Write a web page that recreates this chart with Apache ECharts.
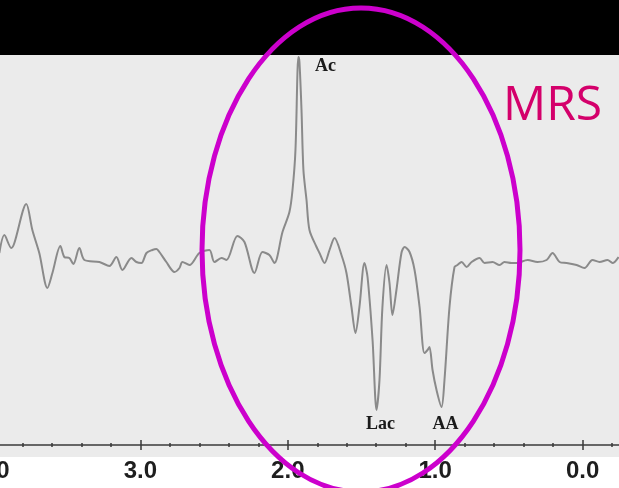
<!DOCTYPE html>
<html>

<head>
  <meta charset="utf-8">
  <title>MRS</title>
  <script src="https://cdnjs.cloudflare.com/ajax/libs/echarts/6.0.0/echarts.min.js"></script>
  <style>
    html, body { margin: 0; padding: 0; background: #fff; }
  </style>
</head>

<body>
  <div id="main" style="width: 619px;height:488px;"></div>
  <script type="text/javascript">
    // chemical shift (ppm) from left to right
    var ppm = [3.957, 3.923, 3.876, 3.855, 3.774, 3.733, 3.686, 3.631, 3.597, 3.543,
      3.516, 3.482, 3.455, 3.414, 3.380, 3.278, 3.210, 3.163, 3.122, 3.061,
      3.027, 2.993, 2.959, 2.919, 2.891, 2.871, 2.824, 2.769, 2.735, 2.715,
      2.667, 2.600, 2.532, 2.498, 2.450, 2.416, 2.342, 2.294, 2.226, 2.172,
      2.125, 2.091, 2.036, 1.989, 1.968, 1.948, 1.934, 1.928, 1.921, 1.907,
      1.894, 1.873, 1.853, 1.805, 1.785, 1.751, 1.717, 1.683, 1.636, 1.602,
      1.568, 1.541, 1.514, 1.480, 1.459, 1.425, 1.398, 1.378, 1.358, 1.330,
      1.310, 1.290, 1.263, 1.229, 1.208, 1.174, 1.140, 1.106, 1.073, 1.052,
      1.039, 1.018, 0.991, 0.957, 0.937, 0.903, 0.869, 0.849, 0.821, 0.787,
      0.753, 0.699, 0.665, 0.611, 0.563, 0.530, 0.482, 0.448, 0.373, 0.306,
      0.244, 0.204, 0.156, 0.109, 0.041, -0.013, -0.067, -0.115, -0.169, -0.203,
      -0.244];
    // signal amplitude (arbitrary units, baseline = 0)
    var signal = [9, 27, 14, 19, 58, 32, 9, -26, -11, 16,
      5, 4, -2, 14, 2, 0, -4, 5, -8, 4,
      0, -1, 9, 12, 13, 10, 0, -10, -6, 0,
      -3, 9, 12, 0, 4, 2, 26, 20, -11, 10,
      7, -1, 30, 50, 72, 112, 192, 205, 200, 152,
      92, 62, 32, 15, 9, -1, 12, 24, 7, -11,
      -45, -71, -45, -1, -15, -78, -148, -118, -45, -3,
      -21, -53, -28, 9, 15, 10, -8, -45, -91, -88,
      -85, -108, -128, -145, -118, -45, -5, -3, 0, -5,
      0, 4, -1, 0, -3, 0, -1, -1, 2, 0,
      2, 9, 0, -1, -3, -6, 2, 0, 2, -1,
      5];
    var tickLabels = ['0.0', '1.0', '2.0', '3.0', '4.0'];
    // peak annotations: [ppm, amplitude, name]
    var peaks = [[1.928, 205, 'Ac'], [1.398, -148, 'Lac'], [0.957, -145, 'AA']];

    var myChart = echarts.init(document.getElementById('main'));

    var points = [];
    for (i = 0; i < ppm.length; i++) {
      points.push([ppm[i], signal[i]]);
    }

    var peakOffsets = { 'Ac': [27, 9], 'Lac': [4, 14], 'AA': [4, 17] };
    var peakMarks = [];
    for (i = 0; i < peaks.length; i++) {
      peakMarks.push({
        coord: [peaks[i][0], peaks[i][1]],
        label: { formatter: peaks[i][2], offset: peakOffsets[peaks[i][2]] }
      });
    }

    var axisRange = { type: 'value', inverse: true, min: -1, max: 4, interval: 1 };

    var option = {
      backgroundColor: '#fff',
      animation: false,
      grid: { left: -7, right: -111, top: 55, bottom: 43, containLabel: false, outerBoundsMode: 'none' },
      graphic: [
        { type: 'rect', z: -10, silent: true, shape: { x: 0, y: 0, width: 619, height: 55 }, style: { fill: '#000' } },
        { type: 'rect', z: -10, silent: true, shape: { x: 0, y: 55, width: 619, height: 402 }, style: { fill: '#ebebeb' } },
        {
          type: 'ellipse', z: 100, silent: true,
          shape: { cx: 361, cy: 250, rx: 159, ry: 242 },
          style: { fill: 'none', stroke: '#cc00cc', lineWidth: 5 }
        },
        {
          type: 'text', z: 100, left: 503, top: 82,
          style: { text: 'MRS', fill: '#d4006b', font: '48px "Open Sans"' }
        }
      ],
      xAxis: [
        Object.assign({}, axisRange, {
          position: 'bottom',
          axisLine: { onZero: false, lineStyle: { color: '#3a3a3a', width: 1.5 } },
          axisTick: { length: 5, lineStyle: { color: '#3a3a3a', width: 1.5 } },
          minorTick: { show: true, splitNumber: 5, length: 2, lineStyle: { color: '#3a3a3a', width: 1.5 } },
          splitLine: { show: false },
          axisLabel: {
            margin: 14, color: '#1e1e1e', fontSize: 24, fontWeight: 'bold',
            fontFamily: 'Liberation Sans',
            formatter: function (v) { return v >= 0 ? tickLabels[Math.round(v)] : ''; }
          }
        }),
        Object.assign({}, axisRange, {
          position: 'bottom',
          axisLine: { show: false, onZero: false },
          axisTick: { inside: true, length: 5, lineStyle: { color: '#3a3a3a', width: 1.5 } },
          minorTick: { show: true, splitNumber: 5, length: 2, lineStyle: { color: '#3a3a3a', width: 1.5 } },
          splitLine: { show: false },
          axisLabel: { show: false }
        })
      ],
      yAxis: { type: 'value', min: -183, max: 207, show: false },
      series: [{
        type: 'line',
        data: points,
        smooth: 0.3,
        showSymbol: false,
        lineStyle: { color: '#8a8a8a', width: 2 },
        markPoint: {
          symbol: 'circle',
          symbolSize: 1,
          itemStyle: { color: 'rgba(0,0,0,0)' },
          label: {
            show: true, position: 'inside', color: '#1a1a1a',
            fontFamily: 'Liberation Serif', fontWeight: 'bold', fontSize: 18
          },
          data: peakMarks
        }
      }]
    };

    myChart.setOption(option);
  </script>
</body>

</html>
